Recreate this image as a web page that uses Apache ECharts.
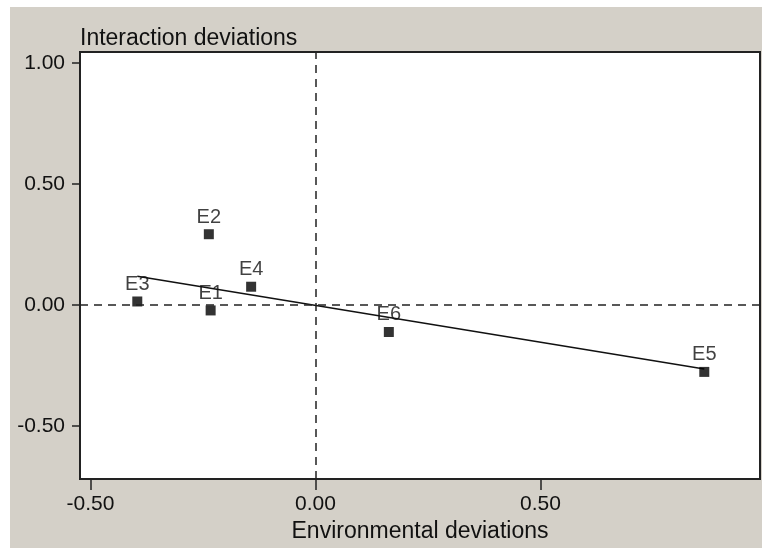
<!DOCTYPE html>
<html>
<head>
<meta charset="utf-8">
<script src="https://cdn.jsdelivr.net/npm/echarts@6/dist/echarts.min.js"></script>
<style>
  html, body { margin: 0; padding: 0; background: #ffffff; }
  #chart { width: 762px; height: 548px; }
</style>
</head>
<body>
<div id="chart"></div>
<script>
// Data
var pointNames = ['E1', 'E2', 'E3', 'E4', 'E5', 'E6'];
var envDev = [-0.233, -0.237, -0.396, -0.143, 0.864, 0.163];
var intDev = [-0.023, 0.292, 0.014, 0.075, -0.277, -0.112];
var fitX = [-0.396, 0.864];
var fitY = [0.118, -0.265];
var xTicks = [-0.5, 0, 0.5];
var yTicks = [-0.5, 0, 0.5, 1.0];
var xTitle = 'Environmental deviations';
var yTitle = 'Interaction deviations';

var FONT = 'Liberation Sans, Arial, sans-serif';
var INK = '#111';

var points = pointNames.map(function (n, i) { return { name: n, value: [envDev[i], intDev[i]] }; });
var fitLine = fitX.map(function (x, i) { return [x, fitY[i]]; });

var chart = echarts.init(document.getElementById('chart'), null, { renderer: 'canvas' });
chart.setOption({
  backgroundColor: '#ffffff',
  animation: false,
  graphic: [{
    type: 'rect', z: -10, silent: true,
    shape: { x: 10, y: 7, width: 752, height: 541 },
    style: { fill: '#d4d0c8' }
  }],
  grid: {
    left: 80, right: 2, top: 52, bottom: 67,
    show: true, backgroundColor: '#ffffff', borderColor: '#222', borderWidth: 2
  },
  xAxis: {
    type: 'value', min: -0.5233, max: 0.9878,
    name: xTitle, nameLocation: 'middle', nameGap: 40,
    nameTextStyle: { fontFamily: FONT, fontSize: 23, color: INK },
    axisLine: { show: true, onZero: false, lineStyle: { color: '#222', width: 2 } },
    splitLine: { show: false },
    axisTick: { show: true, customValues: xTicks, length: 11, lineStyle: { color: '#222', width: 1.5 } },
    axisLabel: { customValues: xTicks, fontFamily: FONT, fontSize: 21, color: INK, margin: 15,
      formatter: function (v) { return v.toFixed(2); } }
  },
  yAxis: {
    type: 'value', min: -0.720, max: 1.045,
    name: yTitle, nameLocation: 'end', nameGap: 2,
    nameTextStyle: { fontFamily: FONT, fontSize: 23, color: INK, align: 'left', verticalAlign: 'bottom' },
    axisLine: { show: true, onZero: false, lineStyle: { color: '#222', width: 2 } },
    splitLine: { show: false },
    axisTick: { show: true, customValues: yTicks, length: 8, lineStyle: { color: '#222', width: 1.5 } },
    axisLabel: { customValues: yTicks, fontFamily: FONT, fontSize: 21, color: INK, margin: 15,
      formatter: function (v) { return v.toFixed(2); } }
  },
  series: [
    {
      type: 'line', data: fitLine, showSymbol: false, symbol: 'none',
      lineStyle: { color: '#111', width: 1.5 }, z: 2,
      markLine: {
        silent: true, symbol: 'none', label: { show: false },
        lineStyle: { type: [8, 6], color: '#222', width: 1.5 },
        data: [{ xAxis: 0 }, { yAxis: 0 }]
      }
    },
    {
      type: 'scatter', data: points, symbol: 'rect', symbolSize: 10,
      itemStyle: { color: '#000' }, z: 3,
      label: { show: true, position: 'top', distance: 2, formatter: '{b}',
        fontFamily: FONT, fontSize: 20, color: INK }
    }
  ]
});
</script>
</body>
</html>
